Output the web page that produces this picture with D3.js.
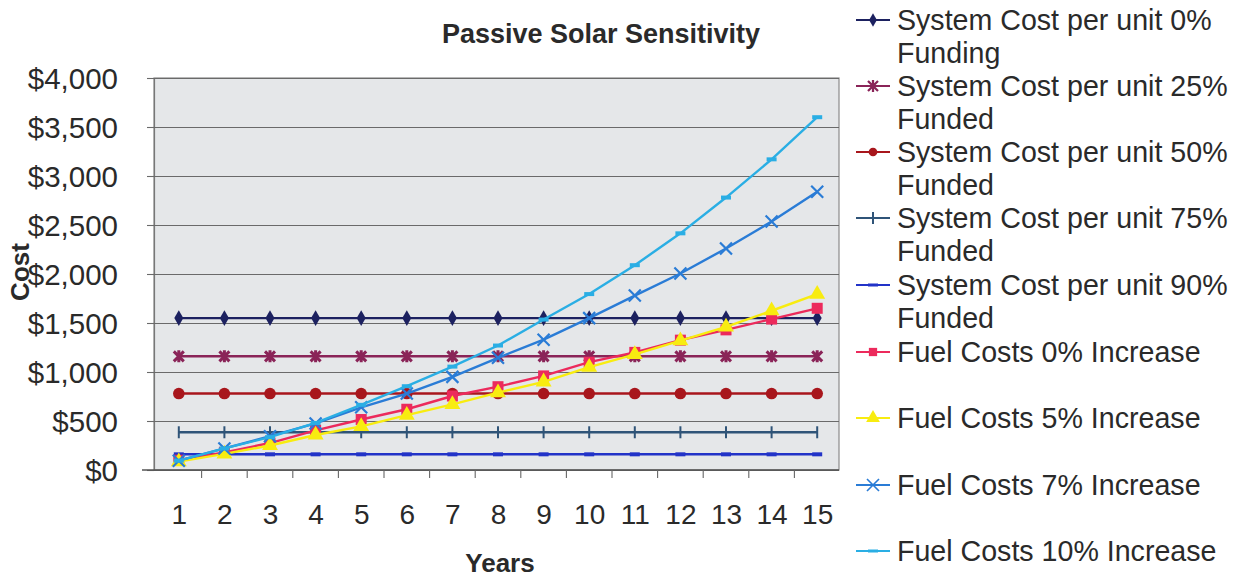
<!DOCTYPE html>
<html>
<head>
<meta charset="utf-8">
<script src="https://cdn.jsdelivr.net/npm/d3@7"></script>
<style>
  html, body { margin: 0; padding: 0; background: #ffffff; }
  svg { display: block; font-family: "Liberation Sans", Arial, sans-serif; }
</style>
</head>
<body>
<svg id="chart" width="1258" height="581"></svg>
<script>
// ---- data ----
const years = [1, 2, 3, 4, 5, 6, 7, 8, 9, 10, 11, 12, 13, 14, 15];
const yTicks = [0, 500, 1000, 1500, 2000, 2500, 3000, 3500, 4000];

const sys0  = [1550, 1550, 1550, 1550, 1550, 1550, 1550, 1550, 1550, 1550, 1550, 1550, 1550, 1550, 1550];
const sys25 = [1160, 1160, 1160, 1160, 1160, 1160, 1160, 1160, 1160, 1160, 1160, 1160, 1160, 1160, 1160];
const sys50 = [780, 780, 780, 780, 780, 780, 780, 780, 780, 780, 780, 780, 780, 780, 780];
const sys75 = [385, 385, 385, 385, 385, 385, 385, 385, 385, 385, 385, 385, 385, 385, 385];
const sys90 = [160, 160, 160, 160, 160, 160, 160, 160, 160, 160, 160, 160, 160, 160, 160];
const fuel0  = [100, 180, 275, 405, 515, 620, 755, 850, 960, 1100, 1200, 1325, 1430, 1540, 1650];
const fuel5  = [85, 165, 250, 357, 445, 560, 670, 790, 900, 1050, 1180, 1320, 1460, 1625, 1795];
const fuel7  = [95, 220, 345, 475, 640, 780, 950, 1145, 1330, 1550, 1780, 2005, 2260, 2535, 2840];
const fuel10 = [95, 220, 335, 480, 665, 855, 1055, 1270, 1535, 1795, 2090, 2415, 2780, 3170, 3600];

const seriesNames = [
  ["System Cost per unit 0%", "Funding"],
  ["System Cost per unit 25%", "Funded"],
  ["System Cost per unit 50%", "Funded"],
  ["System Cost per unit 75%", "Funded"],
  ["System Cost per unit 90%", "Funded"],
  ["Fuel Costs 0% Increase"],
  ["Fuel Costs 5% Increase"],
  ["Fuel Costs 7% Increase"],
  ["Fuel Costs 10% Increase"]
];
const seriesValues = [sys0, sys25, sys50, sys75, sys90, fuel0, fuel5, fuel7, fuel10];
const seriesColors = ["#1c2160", "#8a2458", "#a8161c", "#2f5478", "#2233c8", "#ec2a5c", "#f8ec10", "#2a7cd6", "#2aaee4"];
const seriesMarkers = ["diamond", "asterisk", "circle", "vtick", "dash", "square", "triangle", "cross", "dash"];

// ---- layout ----
const svg = d3.select("#chart");
const plot = { left: 154, right: 839, top: 78, bottom: 470 };

const x = d3.scalePoint().domain(years).range([156, 840]).padding(0.5);
const y = d3.scaleLinear().domain([0, 4000]).range([plot.bottom, plot.top]);

// plot background
svg.append("rect")
  .attr("x", plot.left).attr("y", plot.top)
  .attr("width", plot.right - plot.left).attr("height", plot.bottom - plot.top)
  .attr("fill", "#e5e7e9").attr("stroke", "#8a8a8a").attr("stroke-width", 1.2);

// gridlines + y axis
const yAxis = d3.axisLeft(y).tickValues(yTicks)
  .tickSize(-(plot.right - plot.left))
  .tickFormat(d => "$" + d3.format(",")(d));
const gy = svg.append("g").attr("transform", `translate(${plot.left},0)`).call(yAxis);
gy.select(".domain").attr("stroke", "#777").attr("stroke-width", 1.2);
gy.selectAll(".tick line").attr("stroke", "#6a6a6a").attr("stroke-width", 1.1);
gy.selectAll(".tick").append("line")
  .attr("x1", -7).attr("x2", 0).attr("stroke", "#6a6a6a").attr("stroke-width", 1.1);
gy.selectAll(".tick text")
  .attr("x", -36).attr("dy", "0.34em")
  .attr("font-size", 29.5).attr("fill", "#2a2a2a")
  .attr("font-family", "'Liberation Sans', Arial, sans-serif");

// x axis
const xAxis = d3.axisBottom(x).tickSize(0).tickPadding(34);
const gx = svg.append("g").attr("transform", `translate(0,${plot.bottom})`).call(xAxis);
gx.select(".domain").remove();
gx.selectAll(".tick text")
  .attr("font-size", 28).attr("fill", "#2a2a2a")
  .attr("font-family", "'Liberation Sans', Arial, sans-serif");
svg.append("line")
  .attr("x1", plot.left - 12).attr("x2", plot.right)
  .attr("y1", plot.bottom).attr("y2", plot.bottom)
  .attr("stroke", "#555").attr("stroke-width", 1.5);
// category boundary ticks
const step = x.step();
svg.append("g").selectAll("line")
  .data(years.slice(0, -1))
  .join("line")
  .attr("x1", d => x(d) + step / 2).attr("x2", d => x(d) + step / 2)
  .attr("y1", plot.bottom).attr("y2", plot.bottom + 8)
  .attr("stroke", "#666").attr("stroke-width", 1.1);

// marker drawing
function drawMarker(g, type, color, small) {
  const s = small ? 0.75 : 1;
  switch (type) {
    case "diamond":
      g.append("path").attr("d", d3.symbol(d3.symbolDiamond, 70 * s)).attr("fill", color);
      break;
    case "asterisk":
      g.append("path").attr("d", "M-5,-5L5,5M-5,5L5,-5M0,-6L0,6").attr("stroke", color).attr("stroke-width", 3 * s).attr("fill", "none");
      break;
    case "circle":
      g.append("circle").attr("r", 5.8 * s).attr("fill", color);
      break;
    case "vtick":
      g.append("path").attr("d", "M0,-6L0,6").attr("stroke", color).attr("stroke-width", 2);
      break;
    case "dash":
      g.append("path").attr("d", "M-5,0L5,0").attr("stroke", color).attr("stroke-width", 4 * s);
      break;
    case "square":
      g.append("rect").attr("x", -5.5 * s).attr("y", -5.5 * s).attr("width", 11 * s).attr("height", 11 * s).attr("fill", color);
      break;
    case "triangle":
      g.append("path").attr("d", d3.symbol(d3.symbolTriangle, 110 * s)).attr("fill", color);
      break;
    case "cross":
      g.append("path").attr("d", "M-6,-6L6,6M-6,6L6,-6").attr("stroke", color).attr("stroke-width", 2.2 * s).attr("fill", "none");
      break;
  }
}

// lines
const line = d3.line().x((d, i) => x(years[i])).y(d => y(d));
seriesValues.forEach((vals, si) => {
  svg.append("path")
    .datum(vals)
    .attr("d", line)
    .attr("fill", "none")
    .attr("stroke", seriesColors[si])
    .attr("stroke-width", 2.4);
  vals.forEach((v, i) => {
    const g = svg.append("g").attr("transform", `translate(${x(years[i])},${y(v)})`);
    drawMarker(g, seriesMarkers[si], seriesColors[si], false);
  });
});

// title
svg.append("text")
  .attr("x", 601).attr("y", 43)
  .attr("text-anchor", "middle")
  .attr("font-size", 27).attr("font-weight", "bold").attr("fill", "#2a2a2a")
  .text("Passive Solar Sensitivity");

// axis titles
svg.append("text")
  .attr("x", 500).attr("y", 572)
  .attr("text-anchor", "middle")
  .attr("font-size", 26).attr("font-weight", "bold").attr("fill", "#2a2a2a")
  .text("Years");
svg.append("text")
  .attr("transform", "translate(29,272) rotate(-90)")
  .attr("text-anchor", "middle")
  .attr("font-size", 26).attr("font-weight", "bold").attr("fill", "#2a2a2a")
  .text("Cost");

// legend
const legendY = [20, 86, 152, 218, 285, 352, 418, 485, 551];
const legend = svg.append("g");
seriesNames.forEach((lines, si) => {
  const ly = legendY[si];
  legend.append("line")
    .attr("x1", 856).attr("x2", 890).attr("y1", ly).attr("y2", ly)
    .attr("stroke", seriesColors[si]).attr("stroke-width", 1.8);
  const mg = legend.append("g").attr("transform", `translate(873,${ly})`);
  drawMarker(mg, seriesMarkers[si], seriesColors[si], true);
  lines.forEach((t, li) => {
    legend.append("text")
      .attr("x", 897).attr("y", ly + li * 33)
      .attr("dy", "0.35em")
      .attr("font-size", 28.6).attr("fill", "#2a2a2a")
      .text(t);
  });
});
</script>
</body>
</html>
